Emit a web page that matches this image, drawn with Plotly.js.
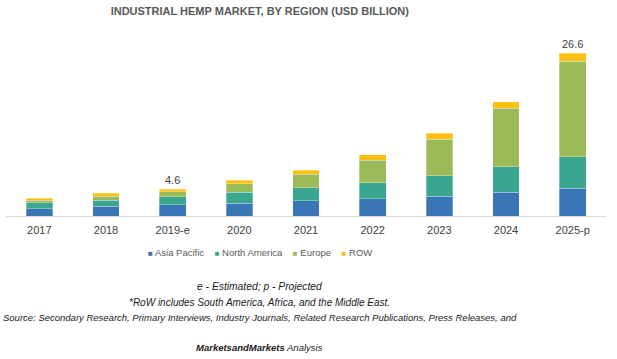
<!DOCTYPE html>
<html>
<head>
<meta charset="utf-8">
<script src="https://cdn.plot.ly/plotly-3.0.1.min.js"></script>
<style>html,body{margin:0;padding:0;background:#fff;}#chart{width:617px;height:359px;}</style>
</head>
<body>
<div id="chart"></div>
<script>
const categories = ["2017", "2018", "2019-e", "2020", "2021", "2022", "2023", "2024", "2025-p"];
const asiaPacific  = [1.19, 1.58, 1.84, 2.07, 2.49, 2.81, 3.25, 3.90, 4.52];
const northAmerica = [0.98, 1.02, 1.30, 1.79, 2.11, 2.60, 3.30, 4.11, 5.15];
const europe       = [0.39, 0.65, 0.81, 1.40, 2.23, 3.69, 6.00, 9.54, 15.60];
const row          = [0.37, 0.44, 0.44, 0.60, 0.65, 0.86, 0.98, 1.09, 1.25];
const labelCategories = ["2019-e", "2025-p"];
const labelValues = [4.6, 26.6];
const seriesNames = ["Asia Pacific", "North America", "Europe", "ROW"];
const colors = ["#3a75b6", "#39a690", "#9bbb59", "#fdc010"];

const series = [asiaPacific, northAmerica, europe, row];
const traces = series.map((vals, i) => ({
  type: "bar",
  x: categories,
  y: vals,
  name: seriesNames[i],
  marker: {color: colors[i], line: {color: "rgba(255,255,255,0.6)", width: 0.5}},
  hoverinfo: "skip",
  showlegend: false
}));

const totals = categories.map((c, i) => series.reduce((s, arr) => s + arr[i], 0));
const labelAnns = labelCategories.map((c, k) => ({
  x: c,
  y: totals[categories.indexOf(c)],
  xref: "x", yref: "y",
  text: labelValues[k].toFixed(1),
  showarrow: false,
  yanchor: "bottom",
  yshift: 1,
  font: {family: "Liberation Sans, Arial, sans-serif", size: 11, color: "#404040"}
}));

// legend drawn as one text line built from the series names and colours
const legendText = seriesNames.map((n, i) =>
  `<span style="color:${colors[i]};font-size:8px">■</span> ${n}`).join("&nbsp;&nbsp;&nbsp;&nbsp;");
const legendAnn = {
  text: legendText, xref: "paper", yref: "paper", x: 0.423, y: -0.2,
  xanchor: "center", yanchor: "middle", showarrow: false,
  font: {family: "Liberation Sans, Arial, sans-serif", size: 9.5, color: "#595959"}
};

const footBase = {family: "Liberation Sans, Arial, sans-serif", color: "#1a1a1a"};
const footnotes = [
  {text: "<i>e - Estimated; p - Projected</i>", y: -0.384, size: 10.3},
  {text: "<i>*RoW includes South America, Africa, and the Middle East.</i>", y: -0.471, size: 10},
  {text: "<i>Source: Secondary Research, Primary Interviews, Industry Journals, Related Research Publications, Press Releases, and</i>", y: -0.554, size: 9.5},
  {text: "<i><b>MarketsandMarkets</b> Analysis</i>", y: -0.714, size: 9.5}
].map(f => ({
  text: f.text, xref: "paper", yref: "paper", x: 0.423, y: f.y,
  xanchor: "center", yanchor: "middle", showarrow: false,
  font: Object.assign({}, footBase, {size: f.size})
}));

const layout = {
  width: 617, height: 359,
  margin: {l: 6, r: 11, t: 32, b: 143},
  paper_bgcolor: "#ffffff",
  plot_bgcolor: "#ffffff",
  barmode: "stack",
  bargap: 0.6,
  showlegend: false,
  title: {
    text: "<b>INDUSTRIAL HEMP MARKET, BY REGION (USD BILLION)</b>",
    x: 0.421, xanchor: "center", y: 0.969, yanchor: "middle",
    font: {family: "Liberation Sans, Arial, sans-serif", size: 11, color: "#595959"}
  },
  xaxis: {
    type: "category",
    showline: true, linecolor: "#d9d9d9", linewidth: 1,
    ticks: "", showgrid: false, zeroline: false,
    ticklabelstandoff: 4,
    tickfont: {family: "Liberation Sans, Arial, sans-serif", size: 11, color: "#404040"}
  },
  yaxis: {
    range: [0, 30], showgrid: false, zeroline: false,
    showticklabels: false, ticks: "", showline: false, fixedrange: true
  },
  annotations: labelAnns.concat([legendAnn]).concat(footnotes)
};

Plotly.newPlot("chart", traces, layout, {displayModeBar: false, staticPlot: true});
</script>
</body>
</html>
